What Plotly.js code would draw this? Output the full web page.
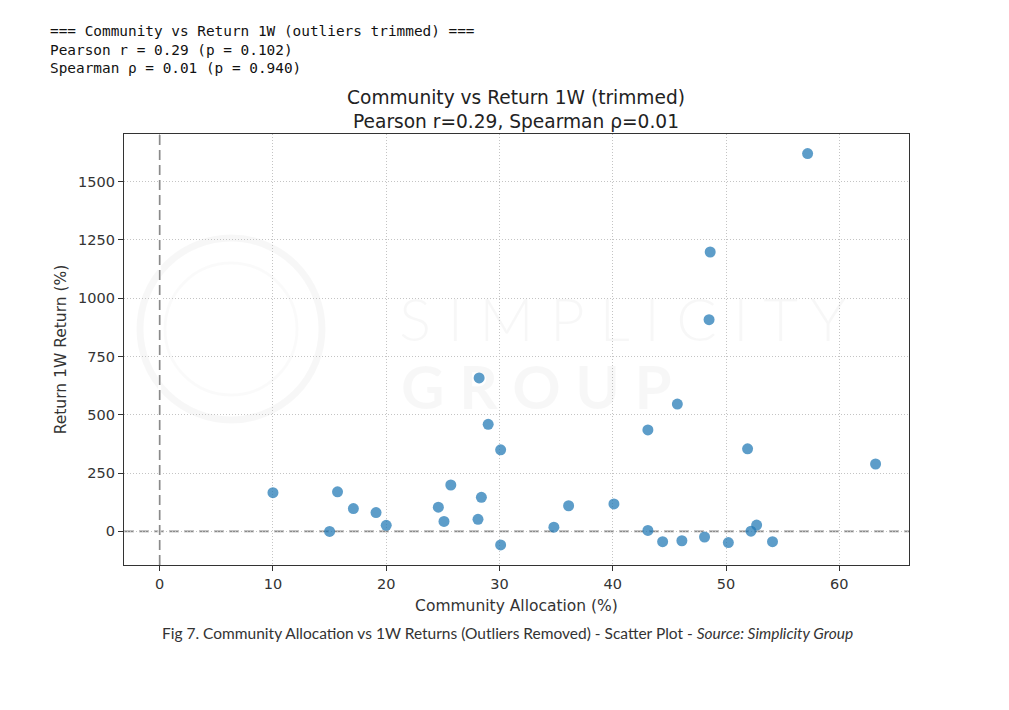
<!DOCTYPE html>
<html>
<head>
<meta charset="utf-8">
<script src="https://cdn.plot.ly/plotly-3.0.1.min.js"></script>
<style>
  html, body { margin: 0; padding: 0; background: #fff; }
  #chart { width: 1009px; height: 710px; }
</style>
</head>
<body>
<div id="chart"></div>
<script>
// community allocation (%) vs 1W return (%)
var allocation = [10, 15, 15.7, 17.1, 19.1, 20, 24.6, 25.1, 25.7, 28.1, 28.4, 28.2,
                  29, 30.1, 30.1, 34.8, 36.1, 40.1, 43.1, 43.1, 44.4, 45.7, 46.1,
                  48.1, 48.6, 48.5, 50.2, 51.9, 52.2, 52.7, 54.1, 57.2, 63.2];
var return1w = [166, 0, 170, 98, 81, 26, 104, 43, 199, 52, 146, 658,
                459, 350, -58, 18, 110, 118, 435, 4, -44, 546, -40,
                -24, 1198, 908, -48, 354, 1, 27, -44, 1620, 289];

var headerLines = [
    "=== Community vs Return 1W (outliers trimmed) ===",
    "Pearson r = 0.29 (p = 0.102)",
    "Spearman \u03c1 = 0.01 (p = 0.940)"
];
var caption = "Fig 7. Community Allocation vs 1W Returns (Outliers Removed) - Scatter Plot - <i>Source: Simplicity Group</i>";

var trace = {
    type: 'scatter',
    mode: 'markers',
    x: allocation,
    y: return1w,
    marker: { color: 'rgba(31,119,180,0.72)', size: 11, line: { width: 0 } },
    hoverinfo: 'x+y'
};

var axisFont = { family: 'DejaVu Sans, sans-serif', size: 14.5, color: '#333' };
var labelFont = { family: 'DejaVu Sans, sans-serif', size: 15.5, color: '#333' };
var zeroLine = { color: '#8a8a8a', width: 1.7, dash: '10px,5px' };
var gridMask = { color: '#fff', width: 3 };
var watermark = 'rgba(0,0,0,0.03)';

var layout = {
    width: 1009,
    height: 710,
    margin: { l: 124, r: 100, t: 134, b: 145 },
    paper_bgcolor: '#fff',
    plot_bgcolor: 'rgba(0,0,0,0)',
    showlegend: false,
    title: {
        text: 'Community vs Return 1W (trimmed)<br>Pearson r=0.29, Spearman \u03c1=0.01',
        font: { family: 'DejaVu Sans, sans-serif', size: 18.6, color: '#222' },
        x: (516 / 1009), xanchor: 'center',
        y: 1 - 104 / 710, yanchor: 'middle'
    },
    xaxis: {
        range: [-3.15, 66.15],
        tickmode: 'linear', tick0: 0, dtick: 10,
        ticks: 'outside', ticklen: 5, tickcolor: '#333',
        showline: true, linecolor: '#333', linewidth: 1.2, mirror: true,
        showgrid: true, gridcolor: '#c4c4c4', griddash: '1px,2px', gridwidth: 1,
        zeroline: false,
        tickfont: axisFont,
        title: { text: 'Community Allocation (%)', font: labelFont, standoff: 9 }
    },
    yaxis: {
        range: [-144, 1704],
        tickmode: 'linear', tick0: 0, dtick: 250,
        ticks: 'outside', ticklen: 5, tickcolor: '#333',
        showline: true, linecolor: '#333', linewidth: 1.2, mirror: true,
        showgrid: true, gridcolor: '#c4c4c4', griddash: '1px,2px', gridwidth: 1,
        zeroline: false,
        tickfont: axisFont,
        title: { text: 'Return 1W Return (%)', font: labelFont, standoff: 7 }
    },
    shapes: [
        // faint watermark logo
        { type: 'circle', xref: 'paper', yref: 'paper',
          x0: (140 - 124) / 785, x1: (322 - 124) / 785, y0: (565 - 420) / 431, y1: (565 - 238) / 431,
          line: { color: watermark, width: 7 }, layer: 'below' },
        { type: 'circle', xref: 'paper', yref: 'paper',
          x0: (165 - 124) / 785, x1: (297 - 124) / 785, y0: (565 - 395) / 431, y1: (565 - 263) / 431,
          line: { color: 'rgba(0,0,0,0.02)', width: 3 }, layer: 'below' },
        // hide the dotted grid under the zero lines
        { type: 'line', xref: 'x', yref: 'paper', x0: 0, x1: 0, y0: 0.003, y1: 0.997,
          line: gridMask, layer: 'above' },
        { type: 'line', xref: 'paper', yref: 'y', x0: 0.002, x1: 0.998, y0: 0, y1: 0,
          line: gridMask, layer: 'between' },
        // reference lines at zero
        { type: 'line', xref: 'x', yref: 'paper', x0: 0, x1: 0, y0: 0, y1: 1,
          line: zeroLine, layer: 'above' },
        { type: 'line', xref: 'paper', yref: 'y', x0: 0, x1: 1, y0: 0, y1: 0,
          line: zeroLine, layer: 'between' }
    ],
    annotations: [
        {
            xref: 'paper', yref: 'paper', x: (48 - 124) / 785, y: (565 - 21) / 431,
            xanchor: 'left', yanchor: 'top', align: 'left', showarrow: false,
            text: headerLines.join('<br>'),
            font: { family: 'DejaVu Sans Mono, monospace', size: 14.4, color: '#111' }
        },
        {
            xref: 'paper', yref: 'paper', x: (507 - 124) / 785, y: (565 - 633) / 431,
            xanchor: 'center', yanchor: 'middle', showarrow: false,
            text: caption,
            font: { family: 'Lato, sans-serif', size: 15.5, color: '#333' }
        },
        {
            xref: 'paper', yref: 'paper', x: (622 - 124) / 785, y: (565 - 318) / 431,
            xanchor: 'center', yanchor: 'middle', showarrow: false,
            text: 'S I M P L I C I T Y',
            font: { family: 'Lato, sans-serif', size: 60, color: watermark, weight: 300 }
        },
        {
            xref: 'paper', yref: 'paper', x: (536 - 124) / 785, y: (565 - 386) / 431,
            xanchor: 'center', yanchor: 'middle', showarrow: false,
            text: '<b>G R O U P</b>',
            font: { family: 'Lato, sans-serif', size: 60, color: watermark }
        }
    ]
};

Plotly.newPlot('chart', [trace], layout, { displayModeBar: false, staticPlot: true });
</script>
</body>
</html>
